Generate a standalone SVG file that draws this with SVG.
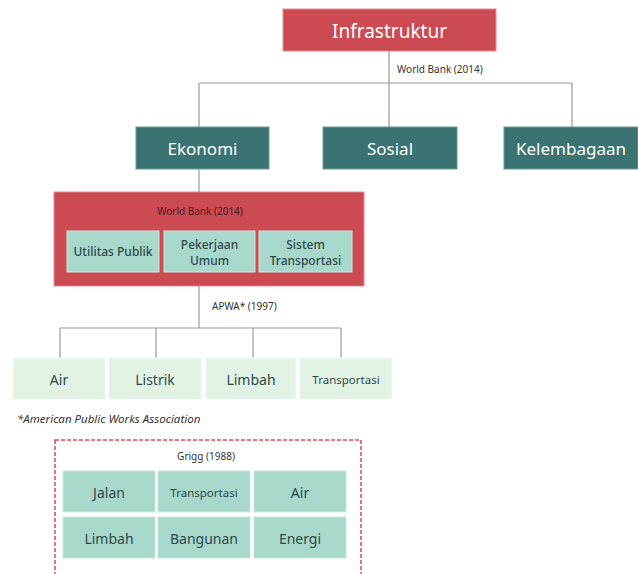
<svg xmlns="http://www.w3.org/2000/svg" width="638" height="574" viewBox="0 0 638 574">
<style>
text{font-family:"Noto Sans","Liberation Sans",sans-serif;text-anchor:middle;dominant-baseline:central}
.red{fill:#cc4a52;stroke:#e88a90;stroke-width:1}
.teal{fill:#3a7372;stroke:#6a9a98;stroke-width:1}
.mint{fill:#a8d8cc;stroke:#c8e8e0;stroke-width:1}
.pale{fill:#e2f2e5;stroke:#f0f9f2;stroke-width:1}
.wt{fill:#ffffff}
.dk{fill:#2f4a48}
.src{font-size:10px;fill:#333;text-anchor:start}
.conn{stroke:#9a9a9a;stroke-width:1.2;fill:none}
</style>
<g id="connectors">
<path class="conn" d="M389 51V83M199 83H572M199 83V127M389 83V127M572 83V127"/>
<path class="conn" d="M199 169V192"/>
<path class="conn" d="M199 286V328M60 328H341M60 328V358M156 328V358M253 328V358M341 328V358"/>
</g>
<g id="infrastruktur"><rect class="red" x="283" y="9" width="213" height="42"/><text class="wt" x="389.5" y="31" font-size="19">Infrastruktur</text></g>
<text class="src" x="397" y="69">World Bank (2014)</text>
<g id="ekonomi"><rect class="teal" x="136" y="127" width="133" height="42"/><text class="wt" x="202.5" y="148" font-size="17">Ekonomi</text></g>
<g id="sosial"><rect class="teal" x="323" y="127" width="134" height="42"/><text class="wt" x="390" y="148" font-size="17">Sosial</text></g>
<g id="kelembagaan"><rect class="teal" x="504" y="127" width="134" height="42"/><text class="wt" x="571" y="148" font-size="17">Kelembagaan</text></g>
<g id="worldbank-group"><rect class="red" x="54" y="192" width="310" height="94"/><text x="200" y="211" font-size="10" fill="#4a1a1e">World Bank (2014)</text></g>
<g id="utilitas"><rect class="mint" x="67" y="231" width="92" height="41"/><text class="dk" x="113" y="251.5" font-size="12" font-weight="500">Utilitas Publik</text></g>
<g id="pekerjaan"><rect class="mint" x="164" y="231" width="91" height="41"/><text class="dk" x="209.5" y="244" font-size="12" font-weight="500">Pekerjaan</text><text class="dk" x="209.5" y="260" font-size="12" font-weight="500">Umum</text></g>
<g id="sistem"><rect class="mint" x="259" y="231" width="93" height="41"/><text class="dk" x="305.5" y="244" font-size="12" font-weight="500">Sistem</text><text class="dk" x="305.5" y="260" font-size="12" font-weight="500">Transportasi</text></g>
<text class="src" x="212" y="306">APWA* (1997)</text>
<g id="air1"><rect class="pale" x="13" y="358" width="92" height="41"/><text class="dk" x="59" y="379" font-size="14">Air</text></g>
<g id="listrik"><rect class="pale" x="109" y="358" width="92" height="41"/><text class="dk" x="155" y="379" font-size="14">Listrik</text></g>
<g id="limbah1"><rect class="pale" x="206" y="358" width="90" height="41"/><text class="dk" x="251" y="379" font-size="14">Limbah</text></g>
<g id="transportasi1"><rect class="pale" x="300" y="358" width="92" height="41"/><text class="dk" x="346" y="379" font-size="11.5">Transportasi</text></g>
<text x="17" y="418" font-size="11.5" font-style="italic" fill="#333" style="text-anchor:start">*American Public Works Association</text>
<g id="grigg"><rect x="55" y="440" width="306" height="140" fill="none" stroke="#e0474f" stroke-width="1.5" stroke-dasharray="4,2"/><text x="206" y="456" font-size="10" fill="#333">Grigg (1988)</text></g>
<g id="jalan"><rect class="mint" x="63" y="471" width="92" height="41"/><text class="dk" x="109" y="492" font-size="14">Jalan</text></g>
<g id="transportasi2"><rect class="mint" x="158" y="471" width="92" height="41"/><text class="dk" x="204" y="492" font-size="11.5">Transportasi</text></g>
<g id="air2"><rect class="mint" x="254" y="471" width="92" height="41"/><text class="dk" x="300" y="492" font-size="14">Air</text></g>
<g id="limbah2"><rect class="mint" x="63" y="517" width="92" height="41"/><text class="dk" x="109" y="538" font-size="14">Limbah</text></g>
<g id="bangunan"><rect class="mint" x="158" y="517" width="92" height="41"/><text class="dk" x="204" y="538" font-size="14">Bangunan</text></g>
<g id="energi"><rect class="mint" x="254" y="517" width="92" height="41"/><text class="dk" x="300" y="538" font-size="14">Energi</text></g>
</svg>
